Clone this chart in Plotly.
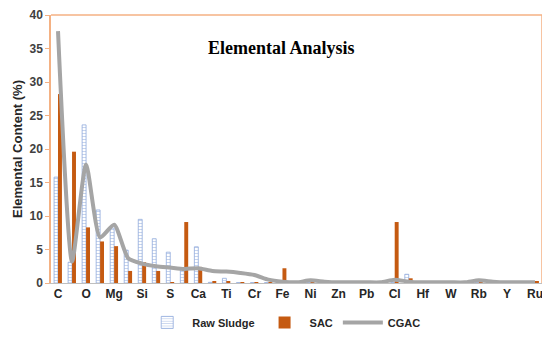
import plotly.graph_objects as go

elements = ["C", "N", "O", "Na", "Mg", "Al", "Si", "P", "S", "K", "Ca", "Ba", "Ti", "V", "Cr",
            "Mn", "Fe", "Co", "Ni", "Cu", "Zn", "Sr", "Pb", "Br", "Cl", "Zr", "Hf", "Ta", "W",
            "Mo", "Rb", "Nb", "Y", "Pd", "Ru"]
tick_labels = ["C", "O", "Mg", "Si", "S", "Ca", "Ti", "Cr", "Fe", "Ni", "Zn", "Pb", "Cl",
               "Hf", "W", "Rb", "Y", "Ru"]

raw_sludge = [15.8, 3.1, 23.6, 10.9, 8.2, 4.9, 9.5, 6.6, 4.6, 2.0, 5.4, 0.1, 0.7, 0.05, 0.05,
              0.05, 0.05, 0.05, 0.05, 0.05, 0.05, 0.05, 0.05, 0.05, 0.05, 1.3, 0.05, 0.05, 0.05,
              0.05, 0.05, 0.05, 0.05, 0.05, 0.05]
sac = [28.2, 19.6, 8.3, 6.2, 5.5, 1.8, 3.1, 1.8, 0.1, 9.1, 2.4, 0.2, 0.3, 0.1, 0.1,
       0.1, 2.2, 0.05, 0.05, 0.05, 0.05, 0.05, 0.05, 0.05, 9.1, 0.7, 0.05, 0.05, 0.05,
       0.05, 0.05, 0.05, 0.05, 0.05, 0.2]
cgac = [37.6, 3.2, 17.7, 6.8, 8.7, 3.7, 2.9, 2.5, 2.3, 2.1, 2.2, 1.8, 1.7, 1.5, 1.2,
        0.5, 0.2, 0.1, 0.4, 0.2, 0.1, 0.1, 0.1, 0.1, 0.5, 0.2, 0.1, 0.1, 0.1,
        0.1, 0.4, 0.2, 0.1, 0.1, 0.1]

ORANGE = "#C55A11"
BORDER = "#F4B183"
BLUE = "#8FAADC"

fig = go.Figure()
fig.add_trace(go.Bar(
    x=elements, y=raw_sludge, name="Raw Sludge",
    marker=dict(color="white", line=dict(color=BLUE, width=0.8),
                pattern=dict(shape="-", fgcolor=BLUE, bgcolor="white", size=3, solidity=0.35)),
))
fig.add_trace(go.Bar(
    x=elements, y=sac, name="SAC",
    marker=dict(color=ORANGE, line=dict(width=0)),
))
fig.add_trace(go.Scatter(
    x=elements, y=cgac, name="CGAC", mode="lines",
    line=dict(color="#A5A5A5", width=4, shape="spline", smoothing=0.6),
))

# page body adds an 8px margin, so the figure is sized to the remaining 542x334 area
fig.update_layout(
    width=542, height=334,
    margin=dict(l=43, r=8, t=7, b=59, autoexpand=False),
    paper_bgcolor="white", plot_bgcolor="white",
    barmode="group", bargap=0.44, bargroupgap=0,
    showlegend=True,
    legend=dict(orientation="h", x=0.475, xanchor="center", y=-0.147, yanchor="middle",
                font=dict(family="Liberation Sans, Arial", size=11, color="#262626", weight="bold"),
                traceorder="normal", itemwidth=40),
    annotations=[dict(text="<b>Elemental Analysis</b>", x=0.47, y=0.877, xref="paper", yref="paper",
                      xanchor="center", yanchor="middle", showarrow=False,
                      font=dict(family="Liberation Serif, Times New Roman", size=18, color="black"))],
    font=dict(family="Liberation Sans, Arial"),
)
fig.update_xaxes(
    type="category", categoryorder="array", categoryarray=elements,
    tickmode="array", tickvals=elements[::2], ticktext=tick_labels,
    tickfont=dict(size=12, color="#262626", family="Liberation Sans, Arial", weight="bold"),
    showline=True, linecolor="#BFBFBF", linewidth=1,
    ticks="", showgrid=False, zeroline=False, automargin=False,
)
fig.update_yaxes(
    range=[0, 40], dtick=5,
    tickfont=dict(size=12, color="#404040", family="Liberation Sans, Arial", weight="bold"),
    title=dict(text="<b>Elemental Content (%)</b>", font=dict(size=13, color="#262626"), standoff=4),
    showline=True, linecolor=BORDER, linewidth=1.5, ticks="outside", tickcolor=BORDER, ticklen=4,
    showgrid=False, zeroline=False, automargin=False, ticklabeloverflow="allow",
)
# top and right plot-border lines
fig.add_shape(type="line", xref="paper", yref="paper", x0=0, x1=1, y0=1, y1=1,
              line=dict(color=BORDER, width=1.5))
fig.add_shape(type="line", xref="paper", yref="paper", x0=1, x1=1, y0=0, y1=1,
              line=dict(color=BORDER, width=1.5))

fig.write_html("out.html")
